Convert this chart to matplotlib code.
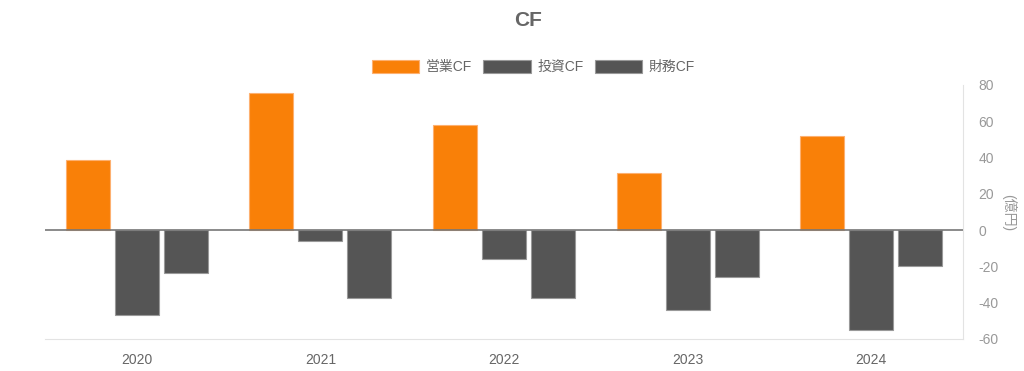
import matplotlib.pyplot as plt
import numpy as np

plt.rcParams['font.family'] = ['Liberation Sans', 'Noto Sans CJK JP', 'DejaVu Sans']
plt.rcParams['axes.unicode_minus'] = False

years = ["2020", "2021", "2022", "2023", "2024"]
operating_cf = [38.5, 75.5, 58, 31.5, 52]
investing_cf = [-47, -6, -16, -44, -55]
financing_cf = [-23.5, -37.5, -37.5, -26, -20]

orange = "#F98008"
dark = "#555555"
label_gray = "#666666"

fig = plt.figure(figsize=(10.24, 3.71), dpi=100)
ax = fig.add_axes([0.0439, 0.0863, 0.8965, 0.6846])

x = np.arange(len(years))
w = 0.24
step = 0.267
ax.bar(x - step, operating_cf, w, color=orange, edgecolor="#FDB070", linewidth=0.8, label="営業CF")
ax.bar(x, investing_cf, w, color=dark, edgecolor="#999999", linewidth=0.8, label="投資CF")
ax.bar(x + step, financing_cf, w, color=dark, edgecolor="#999999", linewidth=0.8, label="財務CF")

ax.axhline(0, color="#777777", linewidth=1.2, zorder=3)

ax.set_xlim(-0.5, len(years) - 0.5)
ax.set_ylim(-60, 80)
ax.set_xticks(x)
ax.set_xticklabels(years)
ax.set_yticks(range(-60, 81, 20))
ax.yaxis.tick_right()

for side in ["top", "left"]:
    ax.spines[side].set_visible(False)
ax.spines["right"].set_color("#E3E3E3")
ax.spines["bottom"].set_color("#E3E3E3")
ax.tick_params(axis="both", length=0, labelsize=10)
ax.tick_params(axis="x", pad=10, colors=label_gray)
ax.tick_params(axis="y", pad=11, colors="#999999")

fig.text(0.985, 0.426, "(億円)", rotation=270, ha="center", va="center", fontsize=10, color="#999999")

fig.text(0.516, 0.945, "CF", ha="center", va="center", fontsize=15, fontweight="bold", color=label_gray)

fig.legend(loc="center", bbox_to_anchor=(0.521, 0.82), ncol=3, frameon=False,
           handlelength=3.4, handleheight=1.1, handletextpad=0.5, columnspacing=0.8,
           fontsize=10, labelcolor=label_gray)

fig.savefig("out.png", dpi=100)
